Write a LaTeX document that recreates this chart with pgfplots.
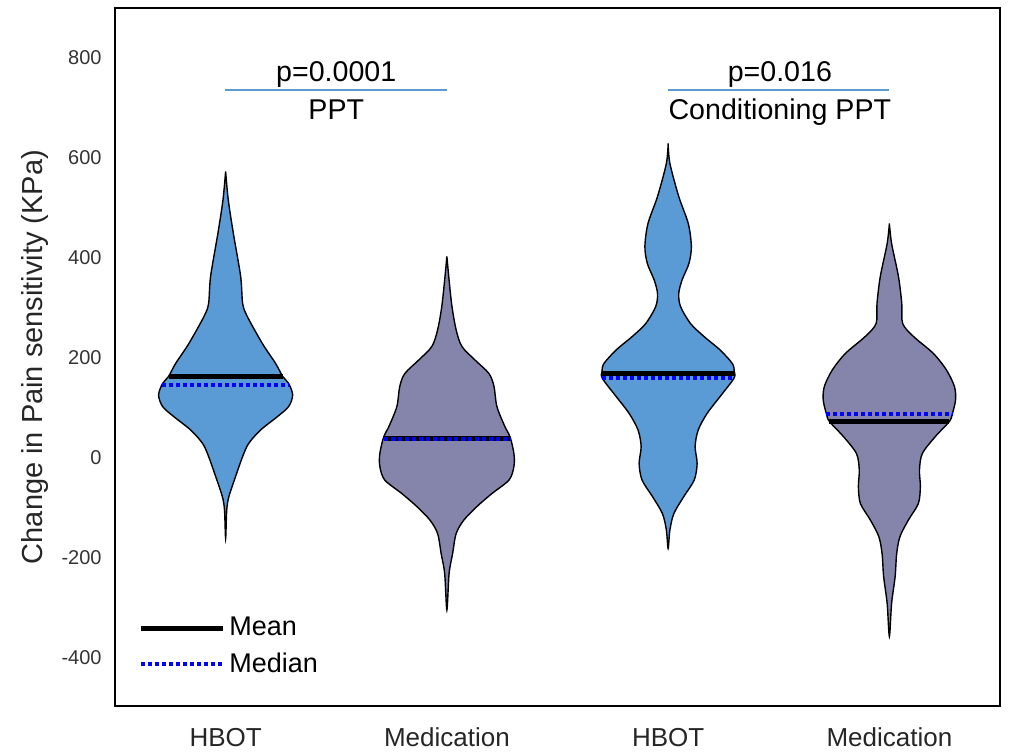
\documentclass[border=0pt]{standalone}
\usepackage{fontspec}
\setmainfont{Liberation Sans}
\usepackage{pgfplots}
\pgfplotsset{compat=1.18}
\definecolor{vblue}{HTML}{5B9BD5}
\definecolor{vpurple}{HTML}{8585AB}
\definecolor{annblue}{HTML}{5B9BD5}
\begin{document}
\begin{tikzpicture}
\useasboundingbox (-57.5pt,-23.5pt) rectangle (448pt,353pt);
\begin{axis}[
  at={(0pt,0pt)}, anchor=south west,
  scale only axis, width=442.5pt, height=349pt,
  xmin=0.5, xmax=4.5, ymin=-496, ymax=900,
  xtick={1,2,3,4}, xticklabels={HBOT,Medication,HBOT,Medication},
  ytick={-400,-200,0,200,400,600,800},
  yticklabels={-400,-200,0,200,400,600,800},
  major tick length=0pt,
  axis line style={line width=1pt},
  yticklabel style={font=\fontsize{10}{12}\selectfont, text=black!80, anchor=east, inner sep=0pt, xshift=-6.5pt},
  xticklabel style={font=\fontsize{13}{15}\selectfont, text=black!85, anchor=base, inner sep=0pt, yshift=-20.5pt},
  ylabel={Change in Pain sensitivity (KPa)},
  every axis y label/.style={at={(axis description cs:-0.0814,0.5)}, rotate=90, anchor=base, font=\fontsize{14.5}{17}\selectfont, text=black!85},
  legend style={draw=none, fill=none, inner sep=0pt, at={(axis description cs:0.026,0.1335)}, anchor=north west, font=\fontsize{13.5}{15}\selectfont, row sep=3pt},
  legend cell align=left,
  legend image code/.code={\draw[#1] (0pt,0pt) -- (41pt,0pt);},
]
% Violin 1: HBOT, PPT
\addplot[fill=vblue, draw=black, line width=0.7pt, smooth, tension=0.5, forget plot] coordinates {
(1.000,573) (1.012,516) (1.035,449) (1.068,363) (1.077,309) (1.098,283) (1.166,229) (1.226,189) (1.258,163) (1.285,149) (1.303,126) (1.285,103) (1.235,83) (1.158,56) (1.104,29) (1.077,3) (1.045,-37) (1.015,-77) (1.005,-104) (1.000,-161)
(0.995,-104) (0.985,-77) (0.955,-37) (0.923,3) (0.896,29) (0.842,56) (0.765,83) (0.715,103) (0.697,126) (0.715,149) (0.742,163) (0.774,189) (0.834,229) (0.902,283) (0.923,309) (0.932,363) (0.965,449) (0.988,516) (1.000,573)
};
% Violin 2: Medication, PPT
\addplot[fill=vpurple, draw=black, line width=0.7pt, smooth, tension=0.5, forget plot] coordinates {
(2,403) (2.010,356) (2.023,303) (2.042,256) (2.068,223) (2.127,196) (2.190,169) (2.213,143) (2.226,103) (2.262,63) (2.285,43) (2.303,9) (2.303,-17) (2.281,-44) (2.204,-71) (2.136,-97) (2.077,-124) (2.042,-151) (2.026,-191) (2.010,-231) (2,-304)
(1.990,-231) (1.974,-191) (1.958,-151) (1.923,-124) (1.864,-97) (1.796,-71) (1.719,-44) (1.697,-17) (1.697,9) (1.715,43) (1.738,63) (1.774,103) (1.787,143) (1.810,169) (1.873,196) (1.932,223) (1.958,256) (1.977,303) (1.990,356) (2,403)
};
% Violin 3: HBOT, Conditioning PPT
\addplot[fill=vblue, draw=black, line width=0.7pt, smooth, tension=0.5, forget plot] coordinates {
(3,629) (3.008,589) (3.048,523) (3.091,469) (3.105,423) (3.094,389) (3.063,356) (3.048,329) (3.056,303) (3.101,269) (3.162,243) (3.235,216) (3.290,189) (3.299,173) (3.297,159) (3.235,123) (3.176,89) (3.136,56) (3.122,23) (3.131,-11) (3.118,-44) (3.071,-77) (3.026,-111) (3.008,-144) (3,-181)
(2.992,-144) (2.974,-111) (2.929,-77) (2.882,-44) (2.869,-11) (2.878,23) (2.864,56) (2.824,89) (2.765,123) (2.703,159) (2.701,173) (2.710,189) (2.765,216) (2.838,243) (2.899,269) (2.944,303) (2.952,329) (2.937,356) (2.906,389) (2.895,423) (2.909,469) (2.952,523) (2.992,589) (3,629)
};
% Violin 4: Medication, Conditioning PPT
\addplot[fill=vpurple, draw=black, line width=0.7pt, smooth, tension=0.5, forget plot] coordinates {
(4,469) (4.010,429) (4.041,363) (4.056,309) (4.060,269) (4.109,243) (4.199,209) (4.258,176) (4.294,143) (4.299,116) (4.285,89) (4.271,73) (4.208,43) (4.149,9) (4.136,-24) (4.140,-57) (4.131,-91) (4.086,-124) (4.048,-157) (4.033,-191) (4.026,-237) (4.010,-291) (4,-357)
(3.990,-291) (3.974,-237) (3.967,-191) (3.952,-157) (3.914,-124) (3.869,-91) (3.860,-57) (3.864,-24) (3.851,9) (3.792,43) (3.729,73) (3.715,89) (3.701,116) (3.706,143) (3.742,176) (3.801,209) (3.891,243) (3.940,269) (3.944,309) (3.959,363) (3.990,429) (4,469)
};
% Means
\addplot[black, line width=2.5pt] coordinates {(0.742,162) (1.258,162)};
\addlegendentry{Mean}
\addplot[blue, line width=2pt, dash pattern=on 2pt off 1.5pt] coordinates {(0.712,146) (1.288,146)};
\addlegendentry{Median}
\addplot[black, line width=2.5pt, forget plot] coordinates {(1.715,38) (2.285,38)};
\addplot[black, line width=2.5pt, forget plot] coordinates {(2.701,169) (3.299,169)};
\addplot[black, line width=2.5pt, forget plot] coordinates {(3.729,73) (4.271,73)};
% Medians
\addplot[blue, line width=2pt, dash pattern=on 2pt off 1.5pt, forget plot] coordinates {(1.715,37) (2.285,37)};
\addplot[blue, line width=2pt, dash pattern=on 2pt off 1.5pt, forget plot] coordinates {(2.703,160) (3.297,160)};
\addplot[blue, line width=2pt, dash pattern=on 2pt off 1.5pt, forget plot] coordinates {(3.715,88) (4.285,88)};
% Annotations
\draw[annblue, line width=1pt] (axis cs:0.996,736) -- (axis cs:2.0,736);
\draw[annblue, line width=1pt] (axis cs:3.0,736) -- (axis cs:4.0,736);
\node[anchor=base, font=\fontsize{14.3}{16}\selectfont] at (axis cs:1.5,752) {p=0.0001};
\node[anchor=base, font=\fontsize{14.3}{16}\selectfont] at (axis cs:1.5,676) {PPT};
\node[anchor=base, font=\fontsize{14.3}{16}\selectfont] at (axis cs:3.505,752) {p=0.016};
\node[anchor=base, font=\fontsize{14.3}{16}\selectfont] at (axis cs:3.505,676) {Conditioning PPT};
\end{axis}
\end{tikzpicture}
\end{document}
